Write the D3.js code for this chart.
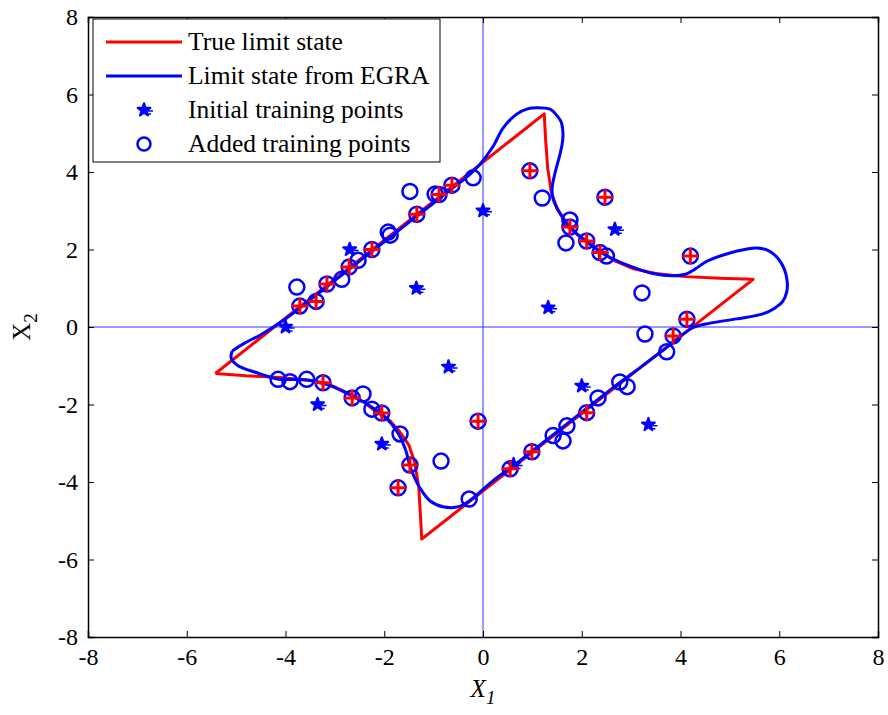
<!DOCTYPE html>
<html>
<head>
<meta charset="utf-8">
<script src="https://cdn.jsdelivr.net/npm/d3@7"></script>
<style>
  body { margin: 0; background: #fff; }
  text { font-family: "Liberation Serif", "Times New Roman", serif; }
</style>
</head>
<body>
<div id="the_board"></div>
<script>
// tick values for both axes
var ticks_x = [-8, -6, -4, -2, 0, 2, 4, 6, 8];
var ticks_y = [-8, -6, -4, -2, 0, 2, 4, 6, 8];

// true limit state (closed outline)
var true_ls = [
  [-5.42, -1.2], [1.24, 5.5], [1.27, 4.8], [1.31, 4.1], [1.38, 3.5], [1.5, 3.05],
  [1.7, 2.68], [1.9, 2.4], [2.15, 2.18], [2.4, 1.92], [2.68, 1.7], [3.05, 1.5],
  [3.5, 1.38], [4.1, 1.3], [4.8, 1.26], [5.47, 1.23],
  [-1.24, -5.47], [-1.27, -4.8], [-1.3, -4.15], [-1.38, -3.5], [-1.5, -3.05],
  [-1.7, -2.68], [-1.9, -2.4], [-2.15, -2.2], [-2.4, -1.95], [-2.68, -1.74],
  [-3.05, -1.52], [-3.5, -1.38], [-4.1, -1.3], [-4.8, -1.26], [-5.42, -1.2]
];

// limit state from EGRA (closed outline)
var egra_ls = [
  [-5.08, -0.62], [-4.82, -0.41], [-4.5, -0.2], [-4.1, 0.12], [-3.7, 0.5], [-3.2, 1.0],
  [-2.7, 1.5], [-2.2, 2.0], [-1.7, 2.5], [-1.2, 3.0], [-0.7, 3.5], [-0.3, 3.9],
  [-0.06, 4.2], [0.2, 4.65], [0.41, 5.14], [0.69, 5.5], [0.9, 5.63], [1.09, 5.66],
  [1.36, 5.62], [1.5, 5.45], [1.58, 5.3], [1.62, 4.97], [1.6, 4.7], [1.56, 4.46],
  [1.46, 3.98], [1.4, 3.59], [1.42, 3.3], [1.5, 3.07], [1.7, 2.66], [2.1, 2.19],
  [2.51, 1.84], [2.98, 1.57], [3.44, 1.38], [3.85, 1.32], [4.1, 1.36], [4.3, 1.5],
  [4.54, 1.7], [5.0, 1.91], [5.3, 2.0], [5.55, 2.04], [5.8, 1.96], [5.98, 1.76],
  [6.1, 1.5], [6.16, 1.19], [6.15, 0.9], [6.07, 0.66], [5.9, 0.48], [5.67, 0.34],
  [5.14, 0.21], [4.6, 0.1], [4.25, -0.02], [3.7, -0.55], [3.2, -1.03], [2.7, -1.5],
  [2.2, -2.0], [1.7, -2.5], [1.2, -3.0], [0.7, -3.5], [0.2, -3.97], [-0.26, -4.47],
  [-0.47, -4.63], [-0.81, -4.64], [-1.07, -4.49], [-1.28, -4.15], [-1.4, -3.85],
  [-1.48, -3.59], [-1.56, -3.2], [-1.72, -2.74], [-2.0, -2.3], [-2.4, -1.95],
  [-2.65, -1.78], [-3.2, -1.46], [-3.6, -1.36], [-4.17, -1.34], [-4.58, -1.18],
  [-4.96, -1.0], [-5.1, -0.8], [-5.08, -0.62]
];

// initial training points
var initial_pts = [
  [0.0, 3.0], [-2.7, 2.0], [-1.35, 1.0], [1.32, 0.5], [-0.7, -1.03], [2.0, -1.52],
  [3.35, -2.52], [-3.35, -2.0], [-2.05, -3.02], [-4.0, 0.0], [2.67, 2.52], [0.62, -3.55]
];

// added training points
var added_pts = [
  [-3.77, 1.03], [-3.71, 0.54], [-3.38, 0.66], [-3.16, 1.11], [-2.86, 1.23], [-2.71, 1.55],
  [-2.53, 1.72], [-2.25, 2.0], [-1.92, 2.45], [-1.88, 2.37], [-1.34, 2.91], [-1.48, 3.5],
  [-0.97, 3.43], [-0.89, 3.42], [-0.63, 3.66], [-0.2, 3.85], [0.95, 4.03], [1.2, 3.33],
  [2.47, 3.35], [1.76, 2.76], [1.76, 2.58], [1.68, 2.17], [2.1, 2.22], [2.37, 1.92],
  [2.5, 1.83], [4.2, 1.83], [3.22, 0.88], [4.13, 0.2], [3.28, -0.18], [3.85, -0.23],
  [3.72, -0.64], [2.77, -1.42], [2.92, -1.54], [2.33, -1.83], [2.1, -2.21], [1.7, -2.55],
  [1.42, -2.8], [1.62, -2.94], [0.99, -3.22], [0.55, -3.66], [-0.28, -4.44], [-0.1, -2.43],
  [-0.85, -3.46], [-1.72, -4.15], [-1.48, -3.56], [-1.68, -2.76], [-2.05, -2.22],
  [-2.25, -2.12], [-2.43, -1.73], [-2.65, -1.83], [-3.24, -1.44], [-3.57, -1.35],
  [-3.91, -1.41], [-4.15, -1.35]
];

// points on the true limit state (red plus)
var plus_pts = [
  [-3.71, 0.54], [-3.38, 0.66], [-3.16, 1.11], [-2.71, 1.55], [-2.25, 2.0], [-1.34, 2.91],
  [-0.89, 3.42], [-0.63, 3.66], [0.95, 4.03], [2.47, 3.35], [1.76, 2.58], [2.1, 2.22],
  [2.37, 1.92], [4.2, 1.83], [4.13, 0.2], [3.85, -0.23], [2.1, -2.21], [0.99, -3.22],
  [0.55, -3.66], [-0.1, -2.43], [-1.72, -4.15], [-1.48, -3.56], [-2.05, -2.22],
  [-2.65, -1.83], [-3.24, -1.44]
];

var legend_items = ["True limit state", "Limit state from EGRA",
  "Initial training points", "Added training points"];

// set the dimensions and margins of the graph
var margin = {top: 17, right: 10, bottom: 78, left: 88},
  width_board = 888 - margin.left - margin.right,
  height_board = 715 - margin.top - margin.bottom;

var svg_root = d3.select("#the_board")
  .append("svg")
  .attr("width", 888)
  .attr("height", 715);

var svg_board = svg_root.append("g")
  .attr("transform", "translate(" + margin.left + "," + margin.top + ")");

var x = d3.scaleLinear().domain([-8, 8]).range([0, width_board]);
var y = d3.scaleLinear().domain([-8, 8]).range([height_board, 0]);

// zero lines
svg_board.append("line")
  .attr("x1", x(0)).attr("x2", x(0)).attr("y1", 0).attr("y2", height_board)
  .attr("stroke", "#3333ff").attr("stroke-width", 1);
svg_board.append("line")
  .attr("x1", 0).attr("x2", width_board).attr("y1", y(0)).attr("y2", y(0))
  .attr("stroke", "#3333ff").attr("stroke-width", 1);

var line = d3.line()
  .x(function(d) { return x(d[0]); })
  .y(function(d) { return y(d[1]); });

svg_board.append("path")
  .datum(true_ls)
  .attr("d", line)
  .attr("fill", "none")
  .attr("stroke", "#ff0000")
  .attr("stroke-width", 3)
  .attr("stroke-linejoin", "round");

svg_board.append("path")
  .datum(egra_ls)
  .attr("d", line.curve(d3.curveCatmullRom.alpha(0.5)))
  .attr("fill", "none")
  .attr("stroke", "#0000ff")
  .attr("stroke-width", 3);

// initial points: blob star with small tail
function drawStar(g, cx, cy) {
  g.append("path")
    .attr("d", d3.symbol().type(d3.symbolStar).size(50)())
    .attr("transform", "translate(" + cx + "," + cy + ")")
    .attr("fill", "#0000ff")
    .attr("stroke", "#0000ff")
    .attr("stroke-width", 2.2)
    .attr("stroke-linejoin", "round");
  g.append("path")
    .attr("d", "M" + (cx + 4) + "," + (cy + 1) + "h5M" + (cx + 3) + "," + (cy + 4) + "h4")
    .attr("stroke", "#0000ff")
    .attr("stroke-width", 1.5);
}

initial_pts.forEach(function(d) {
  drawStar(svg_board, x(d[0]), y(d[1]));
});

svg_board.selectAll(".added")
  .data(added_pts)
  .enter()
  .append("circle")
  .attr("class", "added")
  .attr("cx", function(d) { return x(d[0]); })
  .attr("cy", function(d) { return y(d[1]); })
  .attr("r", 7.5)
  .attr("fill", "none")
  .attr("stroke", "#0000ff")
  .attr("stroke-width", 2.5);

svg_board.selectAll(".plus")
  .data(plus_pts)
  .enter()
  .append("path")
  .attr("class", "plus")
  .attr("d", function(d) {
    var px = x(d[0]), py = y(d[1]);
    return "M" + (px - 8) + "," + py + "h16M" + px + "," + (py - 8) + "v16";
  })
  .attr("stroke", "#ff0000")
  .attr("stroke-width", 3);

// axes with inward ticks on all four sides
var tick_len = 6;
var font_size = 24;
var fmt = function(d) { return String(d); };

svg_board.append("g")
  .attr("transform", "translate(0," + height_board + ")")
  .call(d3.axisBottom(x).tickValues(ticks_x).tickSize(-tick_len).tickPadding(tick_len + 5)
    .tickFormat(fmt));
svg_board.append("g")
  .call(d3.axisTop(x).tickValues(ticks_x).tickSize(-tick_len).tickFormat(""));
svg_board.append("g")
  .call(d3.axisLeft(y).tickValues(ticks_y).tickSize(-tick_len).tickPadding(tick_len + 4)
    .tickFormat(fmt));
svg_board.append("g")
  .attr("transform", "translate(" + width_board + ",0)")
  .call(d3.axisRight(y).tickValues(ticks_y).tickSize(-tick_len).tickFormat(""));

svg_board.selectAll(".domain").attr("stroke", "#000").attr("stroke-width", 1.5);
svg_board.selectAll(".tick line").attr("stroke", "#000").attr("stroke-width", 1);
svg_board.selectAll(".tick text")
  .attr("fill", "#000")
  .style("font-family", "'Liberation Serif', serif")
  .style("font-size", font_size + "px");

// axis labels
var xl = svg_root.append("text")
  .attr("x", margin.left + x(0))
  .attr("y", 697)
  .attr("text-anchor", "middle")
  .style("font-size", "25px")
  .style("font-style", "italic");
xl.append("tspan").text("X");
xl.append("tspan").attr("dy", 7).style("font-size", "19px").text("1");

var yl = svg_root.append("text")
  .attr("transform", "translate(30," + (margin.top + y(0)) + ") rotate(-90)")
  .attr("text-anchor", "middle")
  .style("font-size", "25px");
yl.append("tspan").text("X");
yl.append("tspan").attr("dy", 7).style("font-size", "19px").text("2");

// legend
var legend = svg_board.append("g")
  .attr("transform", "translate(5,2)");

legend.append("rect")
  .attr("width", 347)
  .attr("height", 143)
  .attr("fill", "#fff")
  .attr("stroke", "#000")
  .attr("stroke-width", 1);

var row_y = [23, 57, 91, 125];

legend.append("line")
  .attr("x1", 13).attr("x2", 89).attr("y1", row_y[0]).attr("y2", row_y[0])
  .attr("stroke", "#ff0000").attr("stroke-width", 3);
legend.append("line")
  .attr("x1", 13).attr("x2", 89).attr("y1", row_y[1]).attr("y2", row_y[1])
  .attr("stroke", "#0000ff").attr("stroke-width", 3);
drawStar(legend, 51, row_y[2]);
legend.append("circle")
  .attr("cx", 51).attr("cy", row_y[3]).attr("r", 6.5)
  .attr("fill", "none").attr("stroke", "#0000ff").attr("stroke-width", 2.5);

legend.selectAll(".legtext")
  .data(legend_items)
  .enter()
  .append("text")
  .attr("class", "legtext")
  .attr("x", 95)
  .attr("y", function(d, i) { return row_y[i] + 8; })
  .style("font-size", "25.5px")
  .text(function(d) { return d; });
</script>
</body>
</html>
